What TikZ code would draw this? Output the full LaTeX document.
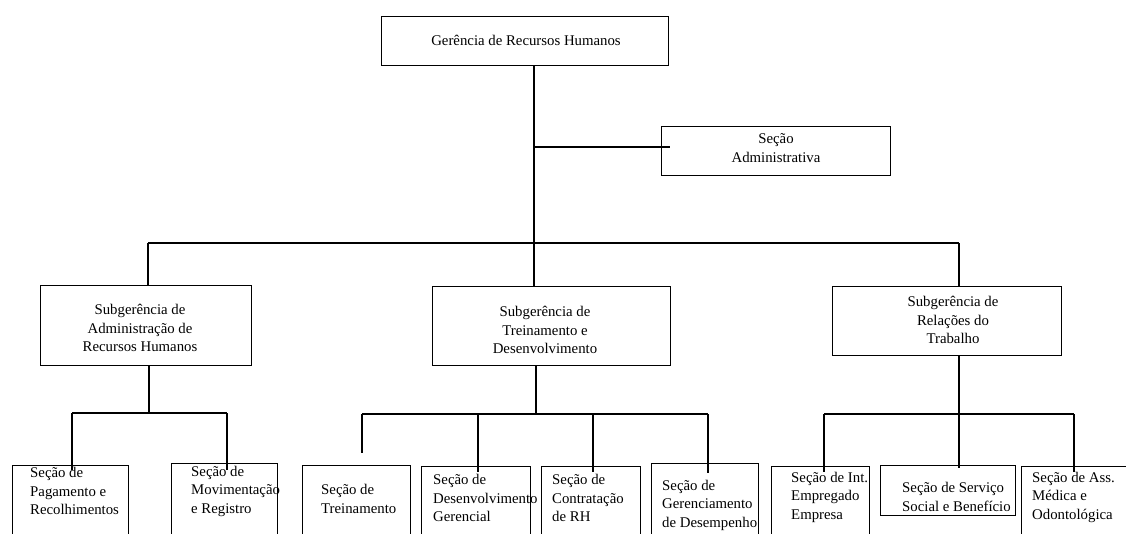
\documentclass[tikz,border=0pt]{standalone}
\usepackage{fontspec}
\setmainfont{Liberation Serif}
\usetikzlibrary{calc}
\begin{document}
\begin{tikzpicture}[x=1pt,y=-1pt,
  box/.style={draw=black,line width=1.3pt,inner sep=0pt,anchor=north west},
  conn/.style={draw=black,line width=2.8pt},
  txt/.style={inner sep=0pt,font=\fontsize{14.8}{18.5}\selectfont,text=black},
  ctxt/.style={txt,align=center},
  ltxt/.style={txt,align=left,anchor=west}]
\useasboundingbox (0,0) rectangle (1126,533);
\clip (0,0) rectangle (1126,533);

% boxes (x, y of top-left corner; width; height)
\node[box,minimum width=287,minimum height=49] (ger) at (381,16) {};
\node[box,minimum width=229,minimum height=49] (adm) at (661,126) {};
\node[box,minimum width=211,minimum height=80] (sadm) at (40,285) {};
\node[box,minimum width=238,minimum height=79] (strn) at (432,286) {};
\node[box,minimum width=229,minimum height=69] (srel) at (832,286) {};

\node[box,minimum width=116,minimum height=80] (pag) at (12,465) {};
\node[box,minimum width=106,minimum height=80] (mov) at (171,463) {};
\node[box,minimum width=108,minimum height=80] (trn) at (302,465) {};
\node[box,minimum width=109,minimum height=80] (dsv) at (421,466) {};
\node[box,minimum width=99,minimum height=80] (ctr) at (541,466) {};
\node[box,minimum width=107,minimum height=80] (gdp) at (651,463) {};
\node[box,minimum width=98,minimum height=80] (int) at (771,466) {};
\node[box,minimum width=135,minimum height=50] (svs) at (880,465) {};
\node[box,minimum width=110,minimum height=80] (ass) at (1021,466) {};

% labels
\node[ctxt] (tger) at (526,40) {Gerência de Recursos Humanos};
\node[ctxt] (tadm) at (776,148) {Seção\\Administrativa};
\node[ctxt] (tsadm) at (140,328) {Subgerência de\\Administração de\\Recursos Humanos};
\node[ctxt] (tstrn) at (545,330) {Subgerência de\\Treinamento e\\Desenvolvimento};
\node[ctxt] (tsrel) at (953,320) {Subgerência de\\Relações do\\Trabalho};

\node[ltxt] (tpag) at (30,491) {Seção de\\Pagamento e\\Recolhimentos};
\node[ltxt] (tmov) at (191,491) {Seção de\\Movimentação\\e Registro};
\node[ltxt] (ttrn) at (321,499) {Seção de\\Treinamento};
\node[ltxt] (tdsv) at (433,498) {Seção de\\Desenvolvimento\\Gerencial};
\node[ltxt] (tctr) at (552,498) {Seção de\\Contratação\\de RH};
\node[ltxt] (tgdp) at (662,505) {Seção de\\Gerenciamento\\de Desempenho};
\node[ltxt] (tint) at (791,497) {Seção de Int.\\Empregado\\Empresa};
\node[ltxt] (tsvs) at (902,497) {Seção de Serviço\\Social e Benefício};
\node[ltxt] (tass) at (1032,497) {Seção de Ass.\\Médica e\\Odontológica};

% junction points
\coordinate (jtop) at (534,243);
\coordinate (jadm) at (534,147);
\coordinate (jl) at (148,243);
\coordinate (jr) at (959,243);
\coordinate (ja) at (149,413);
\coordinate (jb) at (536,414);
\coordinate (jc) at (959,414);

% main trunk and side branch
\draw[conn] (ger.south -| jtop) -- (jtop);
\draw[conn] (jadm) -- ($(adm.west |- jadm)+(9,0)$);
\draw[conn] (jl) -- (jr);
\draw[conn] (jl) -- (sadm.north -| jl);
\draw[conn] (jtop) -- (strn.north -| jtop);
\draw[conn] (jr) -- (srel.north -| jr);

% first subgroup
\draw[conn] (sadm.south -| ja) -- (ja);
\draw[conn] (72,413) -- (227,413);
\draw[conn] (72,413) -- (72,470);
\draw[conn] (227,413) -- (227,470);

% second subgroup
\draw[conn] (strn.south -| jb) -- (jb);
\draw[conn] (362,414) -- (708,414);
\draw[conn] (362,414) -- (362,453);
\draw[conn] (478,414) -- (478,472);
\draw[conn] (593,414) -- (593,472);
\draw[conn] (708,414) -- (708,473);

% third subgroup
\draw[conn] (srel.south -| jc) -- (jc);
\draw[conn] (824,414) -- (1074,414);
\draw[conn] (824,414) -- (824,472);
\draw[conn] (959,414) -- (959,468);
\draw[conn] (1074,414) -- (1074,472);
\end{tikzpicture}
\end{document}
